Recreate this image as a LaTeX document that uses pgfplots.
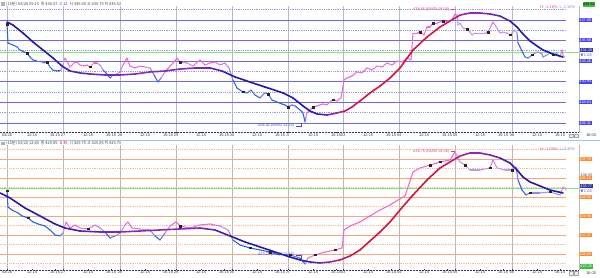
\documentclass[border=0pt]{standalone}
\usepackage{fontspec}
\setmainfont{Liberation Sans}
\newfontfamily\kr{Noto Sans CJK KR}
\newfontfamily\dv{DejaVu Sans}
\usepackage{pgfplots}
\usepackage{pgfplotstable}
\pgfplotsset{compat=1.18}
\definecolor{lvsolid}{RGB}{105,105,245}
\definecolor{lvdot}{RGB}{150,150,245}
\definecolor{orsolid}{RGB}{250,165,115}
\definecolor{ordot}{RGB}{250,185,145}
\definecolor{refgreen}{RGB}{130,230,120}
\definecolor{axnavy}{RGB}{50,50,120}
\definecolor{boxblue}{RGB}{70,70,245}
\definecolor{boxorange}{RGB}{255,140,50}
\definecolor{boxgreen}{RGB}{60,190,60}
\definecolor{annred}{RGB}{225,70,110}
\definecolor{annblue}{RGB}{70,70,220}
\definecolor{sepblue}{RGB}{160,200,230}
\definecolor{daygray}{RGB}{185,185,185}
\definecolor{hdrgray}{RGB}{70,70,70}

\pgfplotstableread{
x y c
7 437.42 0
8 435.29 0
13 435.06 0
17 434.84 0
20 434.50 0
24 434.28 0
27 434.16 0
30 433.71 0
33 433.38 0
37 433.26 0
40 433.26 0.3
44 433.04 0
47 433.15 0.3
50 432.59 0
53 432.25 0
57 432.14 0
61 432.25 0
65 433.60 1
70 432.59 1
74 433.04 1
77 433.15 1
80 432.81 0.8
84 432.70 1
87 432.81 1
90 432.59 0.8
94 433.04 1
97 433.04 1
100 432.81 0.8
103 432.25 0
106 431.92 0
110 431.35 0
113 431.69 0.3
117 431.80 0.3
120 432.03 0.5
123 432.81 1
127 433.60 1
130 432.70 1
135 432.48 0.8
140 432.70 1
145 432.59 0.8
150 432.48 0.6
154 431.69 0
158 430.90 0
161 431.35 0.3
165 432.03 1
170 432.70 1
174 433.15 1
177 433.60 1
180 433.15 1
187 433.04 0.8
193 432.70 0.8
200 433.38 1
205 432.81 0.8
210 433.04 1
215 433.15 1
220 432.81 0.8
225 433.04 1
229 432.48 0.7
233 431.13 0
237 430.23 0
243 429.78 0
247 429.67 0
251 430.00 0.3
255 429.44 0
260 429.11 0
265 429.67 0.4
268 429.55 0.3
272 428.88 0
277 428.65 0
282 428.43 0
285 428.32 0
288 428.09 0
292 428.32 0.3
295 428.21 0
300 427.76 0
303 427.42 0
305 426.41 0
306 426.97 0.6
307 427.42 1
310 427.76 1
313 428.09 1
317 428.21 1
323 428.43 1
327 428.32 0.8
330 428.66 1
333 428.88 1
337 428.77 0.8
341 429.11 1
344 431.13 1
347 431.35 1
352 431.58 1
357 432.03 1
362 431.92 0.8
367 432.48 1
372 432.25 0.8
377 432.70 1
382 432.59 0.8
387 433.04 1
392 432.81 0.8
397 433.26 1
402 433.15 0.8
407 433.60 1
411 433.38 0.8
413 436.41 1
417 436.41 1
420 436.52 1
424 436.19 0.8
427 437.09 1
430 437.09 1
433 437.53 1
437 437.53 1
440 437.65 1
443 437.76 1
447 437.76 1
452 437.87 1
455 438.55 1
457 438.43 0.7
458 437.31 0.6
460 437.53 0.6
463 436.97 0.5
467 436.86 0.6
470 436.52 0.5
472 436.19 0.5
475 436.41 0.6
480 436.41 0.6
485 436.41 0.6
488 436.52 0.7
492 437.42 0.9
493 437.65 0.9
495 437.31 0.7
498 436.75 0.5
500 436.41 0.5
503 436.52 0.6
507 436.41 0.5
510 436.19 0.5
513 436.52 0.6
515 436.75 0.6
517 436.41 0.4
518 435.29 0
520 434.84 0
523 434.16 0
525 433.71 0
528 433.60 0.2
532 433.94 0.3
535 434.16 0.4
538 434.28 0.4
542 434.05 0.3
543 433.71 0.2
547 433.94 0.4
550 434.16 0.5
553 433.94 0.4
557 434.16 0.5
560 433.71 0.4
562 434.50 1
563 433.94 0.6
565 433.71 0.5
}\toppr

\pgfplotstableread{
x y c
7 437.65 0
13 437.31 0
23 436.41 0
33 435.40 0
43 434.50 0
53 433.60 0
62 432.70 0.1
70 432.14 0.2
80 431.92 0.3
90 431.80 0.35
105 431.69 0.4
120 431.69 0.45
135 431.80 0.5
150 432.03 0.5
165 432.14 0.5
180 432.36 0.5
195 432.48 0.45
210 432.48 0.35
222 432.14 0.2
235 431.47 0
250 430.90 0
265 430.34 0
283 429.67 0
293 429.11 0
303 428.21 0
310 427.64 0
317 427.31 0.1
327 427.19 0.3
337 427.42 0.6
345 427.64 0.8
352 428.09 0.9
360 428.77 1
370 429.67 1
380 430.45 1
390 431.35 1
400 432.48 1
413 434.50 1
427 435.96 1
440 437.09 1
450 437.76 0.9
460 438.43 0.7
470 438.66 0.55
480 438.66 0.5
490 438.55 0.4
500 438.32 0.3
510 437.76 0.15
517 437.09 0
523 436.30 0
530 435.51 0
537 434.95 0
543 434.50 0
553 434.05 0
563 433.71 0
}\topma

\pgfplotstableread{
x y c
7 433.36 0
8 431.14 0
12 430.73 0
18 430.31 0
22 429.90 0
28 429.62 0
33 429.07 0
38 428.79 0
45 428.51 0
50 427.96 0
55 427.27 0
60 427.13 0
63 427.54 0.4
66 429.07 1
70 428.23 1
75 428.65 1
80 428.23 0.8
88 428.10 0.8
95 428.65 1
100 428.23 0.8
105 427.68 0
110 426.85 0
115 427.13 0.3
120 427.54 0.5
125 428.65 1
128 429.07 1
132 428.23 1
140 428.10 0.8
150 427.96 0.6
155 427.13 0
160 426.57 0
165 427.54 0.4
170 428.51 1
176 429.07 1
180 428.51 1
190 428.23 0.8
200 428.65 1
210 428.79 1
220 428.51 0.8
228 427.96 0.7
233 426.57 0
240 425.88 0
250 425.47 0
260 425.19 0
270 424.91 0
280 424.50 0
290 424.50 0.3
300 424.08 0
305 423.25 0
308 424.08 0.8
315 424.50 1
325 424.91 1
335 425.19 1
342 425.47 1
344 427.96 1
350 428.51 1
360 429.07 1
370 429.90 1
380 430.73 1
390 431.42 1
398 432.11 1
405 432.66 1
413 435.99 1
420 436.54 1
430 436.95 1
440 437.37 1
450 437.65 1
455 438.75 1
460 437.37 0.6
465 436.95 0.6
470 436.26 0.5
480 436.26 0.6
490 436.54 0.7
493 437.65 0.9
497 436.54 0.6
505 436.26 0.5
512 436.26 0.6
516 436.68 0.5
518 434.88 0
522 433.49 0
526 432.80 0
530 433.08 0.3
540 433.08 0.4
550 433.22 0.4
560 432.80 0.4
563 433.91 1
566 433.49 0.5
}\botpr

\pgfplotstableread{
x y c
0 433.08 0.1
10 432.39 0
25 431.00 0
40 429.90 0
55 428.79 0
65 428.23 0.1
80 427.82 0.2
100 427.68 0.35
120 427.68 0.45
140 427.82 0.5
160 427.96 0.5
180 428.10 0.5
200 428.23 0.45
215 427.96 0.3
230 427.13 0
245 426.30 0
260 425.61 0
275 424.91 0
290 424.22 0
300 423.81 0
310 423.53 0.1
320 423.39 0.3
330 423.53 0.6
340 423.81 0.8
350 424.36 0.9
360 425.19 1
370 426.44 1
380 427.68 1
390 429.07 1
400 430.73 1
413 432.80 1
427 434.88 1
440 436.54 1
450 437.37 0.9
460 438.20 0.7
470 438.61 0.55
480 438.61 0.5
490 438.34 0.4
500 437.92 0.3
510 437.23 0.15
517 436.26 0
523 435.29 0
530 434.60 0
540 434.05 0
550 433.49 0
563 433.08 0
}\botma

\pgfplotsset{
  colormap={pricecm}{rgb255=(40,95,235) rgb255=(185,160,240) rgb255=(245,100,205)},
  colormap={macm}{rgb255=(35,25,175) rgb255=(140,40,190) rgb255=(215,20,60)},
  panel/.style={
    scale only axis, width=579bp, xmin=0, xmax=579,
    point meta min=0, point meta max=1,
    clip=false,
    axis x line*=bottom, axis y line*=right,
    x axis line style={densely dotted, axnavy, line width=0.5bp},
    y axis line style={daygray, line width=0.5bp},
    /pgf/number format/assume math mode=true,
    xtick={32,55,88,111,145,168,201,224,257,280,313,336,368,391,424,447,480,503,537,560},
    xticklabels={12:15,15:15,12:15,15:15,12:15,15:15,12:15,15:15,12:15,15:15,12:15,15:15,12:15,15:15,12:15,15:15,12:15,15:15,12:15,15:15},
    extra x ticks={7,63,120,176,232,288,343,399,455,512},
    extra x tick labels={03/26,27,28,29,30,A,03,04,05,06},
    extra x tick style={grid=major, major grid style={daygray, line width=0.5bp},
      tick label style={font=\fontsize{4.2}{5}\selectfont\bfseries, text=black}},
    xticklabel style={font=\fontsize{4}{5}\selectfont, text=black!75, inner sep=0.8bp},
    major tick length=1.2bp,
    xtick style={axnavy, line width=0.4bp},
    ytick style={draw=none},
    yticklabel pos=right,
    yticklabel={\pgfmathprintnumber[fixed,fixed zerofill,precision=2]{\tick}},
    yticklabel style={font=\fontsize{3.8}{4.2}\selectfont, text=white, inner sep=0.7bp, anchor=west, xshift=-0.5bp},
  },
  dotlv/.style={dash pattern=on 0.7bp off 1.1bp, line width=0.6bp},
}

\begin{document}
\begin{tikzpicture}
\useasboundingbox (0,0) rectangle (600bp,-278bp);
\fill[white] (0,0) rectangle (600bp,-278bp);

% ---------------- TOP PANEL ----------------
\begin{axis}[panel, at={(0bp,-132.7bp)}, anchor=south west, height=126.7bp,
  ymin=425.20, ymax=439.45,
  ytick={426.31,428.63,430.94,433.26,435.58,437.89},
  yticklabel style={fill=boxblue}]
\pgfplotsinvokeforeach{439.05,436.73,434.42,432.10,429.79,427.47}{
  \addplot[lvdot, dotlv] coordinates {(0,#1) (566,#1)};}
\pgfplotsinvokeforeach{437.89,435.58,433.26,430.94,428.63,426.31}{
  \addplot[lvsolid, line width=0.6bp] coordinates {(0,#1) (566,#1)};}
\addplot[refgreen, line width=0.7bp] coordinates {(0,434.28) (579,434.28)};
\addplot[mesh, shader=flat, colormap name=pricecm, point meta=explicit, line width=1.05bp, line cap=round, line join=round] table[x=x, y=y, meta=c] {\toppr};
\addplot[mesh, shader=flat, colormap name=macm, point meta=explicit, line width=1.6bp, line cap=round, line join=round] table[x=x, y=y, meta=c] {\topma};
\addplot[only marks, mark=square*, mark size=0.7bp, black!85] coordinates {
 (7,437.42) (27,434.16) (47,433.15) (90,432.59) (180,433.15) (243,429.78) (268,429.55)
 (288,428.09) (313,428.09) (333,428.88) (420,436.52) (433,437.53) (443,437.76)
 (467,436.86) (488,436.52) (510,436.19) (532,433.94) (553,433.94)};
\node[anchor=west, font=\fontsize{3.9}{4.5}\selectfont, text=annred, inner sep=0] at (axis cs:413,439.11) {438.55 (08/05 09:30)};
\draw[annred, line width=0.4bp] (axis cs:451,439.11) -- (axis cs:455,439.11);
\node[anchor=west, font=\fontsize{3.9}{4.5}\selectfont, text=annblue, inner sep=0] at (axis cs:258,425.96) {426.41 (08/02 11:15)};
\draw[annblue, line width=0.4bp] (axis cs:296,425.96) -- (axis cs:301,425.96) -- (axis cs:301,426.3);
\node[anchor=west, font=\fontsize{3.9}{4.5}\selectfont, inner sep=0] at (axis cs:540,439.33) {\textcolor{annred}{H: -1.18\%}\ \ \textcolor{annblue!70}{L: 2.15\%}};
\node[anchor=west, fill=boxblue!70!black, text=white, font=\fontsize{3.8}{4.2}\selectfont, inner sep=0.7bp] at (axis cs:579.5,434.50) {434.28};
\node[anchor=west, text=boxblue, font=\fontsize{3.6}{4.2}\selectfont, inner sep=0.3bp] at (axis cs:580,433.85) {\dv ▼\,1.05};
\end{axis}

% header top
\fill[gray!60] (1bp,-2bp) rectangle (4.5bp,-5.5bp);
\node[anchor=west, font=\kr\fontsize{4}{5}\selectfont, text=hdrgray, inner sep=0] at (6bp,-3.8bp)
 {(15분) 03/26 09:15\ \ 종 436.57 \textcolor{annblue}{-2.12}\ \ 시 436.69 고 436.79 저 436.52};
\node[anchor=center, fill=boxgreen, text=black, font=\fontsize{3.8}{4.2}\selectfont, inner sep=0.7bp] at (589bp,-4.5bp) {436.52};

% separator
\draw[sepblue, line width=0.6bp] (0,-140bp) -- (600bp,-140bp);
\foreach \yy in {-135.5bp,-273.3bp}{
  \draw[gray!70, fill=gray!15, line width=0.3bp] (569bp,\yy-1.8bp) rectangle (573bp,\yy+1.8bp);
  \draw[gray!70, fill=gray!15, line width=0.3bp] (574bp,\yy-1.8bp) rectangle (578bp,\yy+1.8bp);
  \node[font=\fontsize{4}{5}\selectfont, text=black!75, inner sep=0] at (591bp,\yy) {16:00};
}

% ---------------- BOTTOM PANEL ----------------
\begin{axis}[panel, at={(0bp,-270bp)}, anchor=south west, height=125bp,
  ymin=422.42, ymax=439.72,
  ytick={424.64,427.27,429.90,432.53,435.15,437.78},
  yticklabel style={fill=boxorange}]
\pgfplotsinvokeforeach{439.10,436.47,433.84,431.21,428.58,425.95,423.32}{
  \addplot[ordot, dotlv] coordinates {(0,#1) (566,#1)};}
\pgfplotsinvokeforeach{437.78,435.15,432.53,429.90,427.27,424.64}{
  \addplot[orsolid, line width=0.6bp] coordinates {(0,#1) (566,#1)};}
\addplot[refgreen, line width=0.7bp] coordinates {(0,433.77) (579,433.77)};
\addplot[mesh, shader=flat, colormap name=pricecm, point meta=explicit, line width=1.05bp, line cap=round, line join=round] table[x=x, y=y, meta=c] {\botpr};
\addplot[mesh, shader=flat, colormap name=macm, point meta=explicit, line width=1.6bp, line cap=round, line join=round] table[x=x, y=y, meta=c] {\botma};
\addplot[only marks, mark=square*, mark size=0.7bp, black!85] coordinates {
 (7,433.36) (28,429.62) (88,428.10) (180,428.51) (250,425.47) (270,424.91)
 (290,424.50) (315,424.50) (335,425.19) (430,436.95) (440,437.37) (465,436.95)
 (490,436.54) (512,436.26) (530,433.08) (550,433.22)};
\node[anchor=west, font=\fontsize{3.9}{4.5}\selectfont, text=annred, inner sep=0] at (axis cs:413,438.89) {438.75 (08/05 09:30)};
\draw[annred, line width=0.4bp] (axis cs:451,438.89) -- (axis cs:455,438.89);
\node[anchor=west, font=\fontsize{3.9}{4.5}\selectfont, text=annblue, inner sep=0] at (axis cs:258,424.50) {423.25 (08/02 11:15)};
\draw[annblue, line width=0.4bp] (axis cs:296,424.50) -- (axis cs:301,424.50) -- (axis cs:301,423.6);
\node[anchor=west, font=\fontsize{3.9}{4.5}\selectfont, inner sep=0] at (axis cs:540,439.1) {\textcolor{annred}{H: -1.00\%}\ \ \textcolor{annblue!70}{L: 2.40\%}};
\node[anchor=west, text=black!70, font=\fontsize{3.8}{4.2}\selectfont, inner sep=0.5bp] at (axis cs:580,435.55) {436.55};
\node[anchor=west, fill=boxblue!70!black, text=white, font=\fontsize{3.8}{4.2}\selectfont, inner sep=0.7bp] at (axis cs:579.5,434.05) {433.77};
\node[anchor=west, text=boxblue, font=\fontsize{3.6}{4.2}\selectfont, inner sep=0.3bp] at (axis cs:580,433.35) {\dv ▼\,1.05};
\node[anchor=west, fill=boxgreen, text=white, font=\fontsize{3.8}{4.2}\selectfont, inner sep=0.7bp] at (axis cs:579.5,422.9) {423.25};
\end{axis}

% header bottom
\fill[gray!60] (1bp,-141.6bp) rectangle (4.5bp,-145.1bp);
\node[anchor=west, font=\kr\fontsize{4}{5}\selectfont, text=hdrgray, inner sep=0] at (6bp,-143.4bp)
 {(15분) 03/26 12:45\ \ 종 429.85 \textcolor{red!80!black}{-0.35}\ \ 시 429.75 고 429.85 저 429.70};
\end{tikzpicture}
\end{document}
